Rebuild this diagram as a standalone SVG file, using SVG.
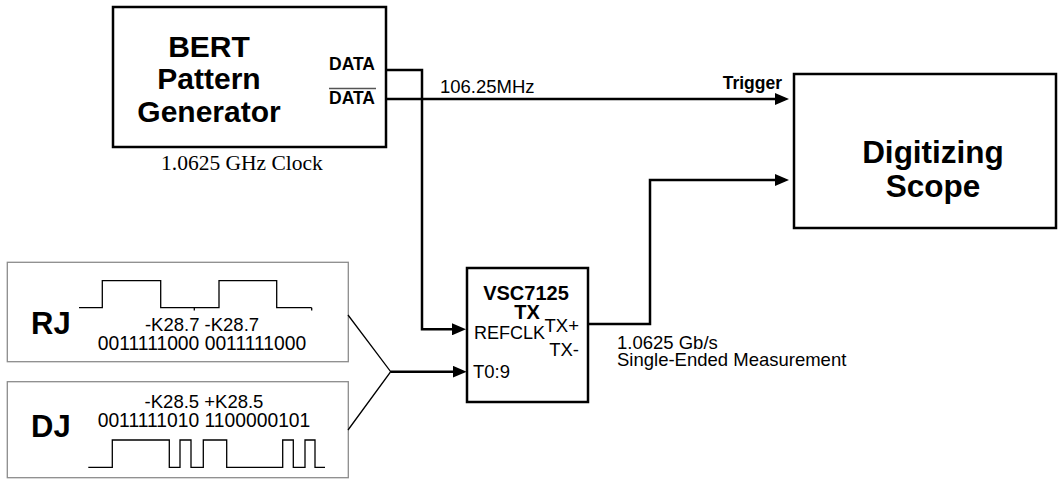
<svg xmlns="http://www.w3.org/2000/svg" width="1058" height="483" viewBox="0 0 1058 483">
<defs>
<style>
.box{fill:#fff;stroke:#000;stroke-width:2.5}
.gbox{fill:#fff;stroke:#8c8c8c;stroke-width:1.3}
.wire{fill:none;stroke:#000;stroke-width:2.5}
.thin{fill:none;stroke:#000;stroke-width:1.3}
.big{font-family:"Liberation Sans",Arial,sans-serif;font-weight:bold;font-size:30px;fill:#000}
.lbl{font-family:"Liberation Sans",Arial,sans-serif;font-size:18.5px;fill:#000}
.code{font-family:"Liberation Sans",Arial,sans-serif;font-size:19.3px;fill:#000}
.blbl{font-family:"Liberation Sans",Arial,sans-serif;font-weight:bold;font-size:17.5px;fill:#000}
.serif{font-family:"Liberation Serif","Times New Roman",serif;font-size:21.5px;fill:#000}
</style>
<marker id="arr" markerUnits="userSpaceOnUse" markerWidth="14" markerHeight="12" refX="10" refY="6" orient="auto">
<path d="M0,0 L14,6 L0,12 z" fill="#000"/>
</marker>
</defs>
<rect width="1058" height="483" fill="#fff"/>

<g id="bert">
<rect class="box" x="113" y="7" width="273" height="140"/>
<text class="big" x="209" y="56.5" text-anchor="middle">BERT</text>
<text class="big" x="209" y="89" text-anchor="middle">Pattern</text>
<text class="big" x="209" y="121.5" text-anchor="middle">Generator</text>
<text class="blbl" x="329" y="69.5">DATA</text>
<text class="blbl" x="329" y="104">DATA</text>
<line x1="329" y1="88.5" x2="376" y2="88.5" stroke="#555" stroke-width="1.3"/>
<text class="serif" x="161" y="170">1.0625 GHz Clock</text>
</g>

<g id="scope">
<rect class="box" x="794" y="74" width="262" height="154"/>
<text class="big" style="font-size:31.5px" x="933" y="163" text-anchor="middle">Digitizing</text>
<text class="big" style="font-size:31.5px" x="933" y="197" text-anchor="middle">Scope</text>
</g>

<g id="tx">
<rect class="box" x="467" y="268" width="121" height="134"/>
<text class="big" style="font-size:20px" x="526" y="299.5" text-anchor="middle">VSC7125</text>
<text class="big" style="font-size:20px" x="527" y="318.5" text-anchor="middle">TX</text>
<text class="lbl" style="font-size:18px" x="474" y="339">REFCLK</text>
<text class="lbl" x="579" y="331.5" text-anchor="end">TX+</text>
<text class="lbl" x="579" y="355.5" text-anchor="end">TX-</text>
<text class="lbl" x="473" y="378.3">T0:9</text>
</g>

<g id="rj">
<rect class="gbox" x="7.3" y="262.3" width="341" height="99.4"/>
<text class="big" style="font-size:31px" x="31" y="334">RJ</text>
<path class="thin" d="M79,307.7 H102.3 V280.7 H160.7 V307.7 H219 V280.7 H276.7 V307.7 H311.7"/>
<path class="thin" d="M194.3,307.7 V310.5 M311.7,307.7 V310.5"/>
<text class="lbl" x="202" y="331" text-anchor="middle">-K28.7 -K28.7</text>
<text class="code" x="202" y="350" text-anchor="middle">0011111000 0011111000</text>
</g>

<g id="dj">
<rect class="gbox" x="7.3" y="381.7" width="341" height="96"/>
<text class="big" style="font-size:31px" x="31" y="436.5">DJ</text>
<text class="lbl" x="204" y="408" text-anchor="middle">-K28.5 +K28.5</text>
<text class="code" x="204" y="427" text-anchor="middle">0011111010 1100000101</text>
<path class="thin" d="M88.3,467.3 H112.3 V440 H169.3 V467.3 H180 V440 H191 V467.3 H203.3 V440 H226.7 V467.3 H282.7 V440 H293.3 V467.3 H305 V440 H315 V467.3 H325"/>
</g>

<g id="connectors">
<path class="wire" d="M386,70 H422 V329.3 H462" marker-end="url(#arr)"/>
<path class="wire" d="M386,99 H785" marker-end="url(#arr)"/>
<text class="lbl" x="440" y="93">106.25MHz</text>
<text class="blbl" x="782" y="88.5" text-anchor="end">Trigger</text>
<path class="wire" d="M588,324 H650 V180 H785" marker-end="url(#arr)"/>
<text class="lbl" x="617" y="348.5">1.0625 Gb/s</text>
<text class="lbl" x="617" y="366">Single-Ended Measurement</text>
<path class="thin" d="M348,315 L390.7,371.7 L348,430"/>
<path class="wire" d="M390.7,371.7 H462.7" marker-end="url(#arr)"/>
</g>
</svg>
